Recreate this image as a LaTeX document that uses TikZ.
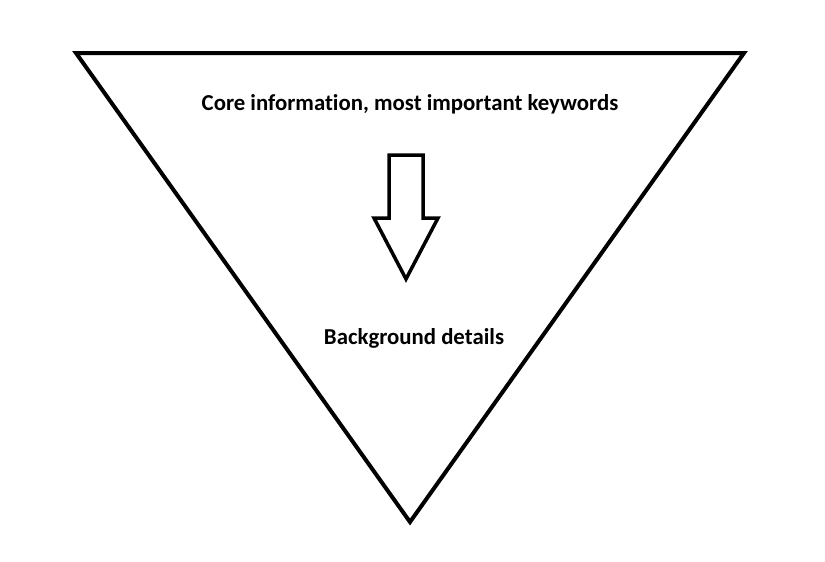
\documentclass[tikz,border=0pt]{standalone}
\usepackage{fontspec}
\setmainfont{Carlito}[Ligatures={NoCommon}]
\begin{document}
\begin{tikzpicture}[x=1pt,y=-1pt,
  outline/.style={draw=black,line width=4pt,line join=miter},
  lbl/.style={font=\fontsize{22.8}{27}\selectfont\bfseries,inner sep=0pt,anchor=center}]
\useasboundingbox (0,0) rectangle (825,562);
\coordinate (tl) at (76,53);
\coordinate (tr) at (744,53);
\coordinate (bt) at (410,522);
\draw[outline] (tl) -- (tr) -- (bt) -- cycle;
\draw[outline,line width=3.5pt] (389,155) -- (423,155) -- (423,218) -- (438,218) -- (406,279) -- (374,218) -- (389,218) -- cycle;
\node[lbl] (core) at (410,104) {Core information, most important keywords};
\node[lbl] (bg) at (414,338) {Background details};
\end{tikzpicture}
\end{document}
